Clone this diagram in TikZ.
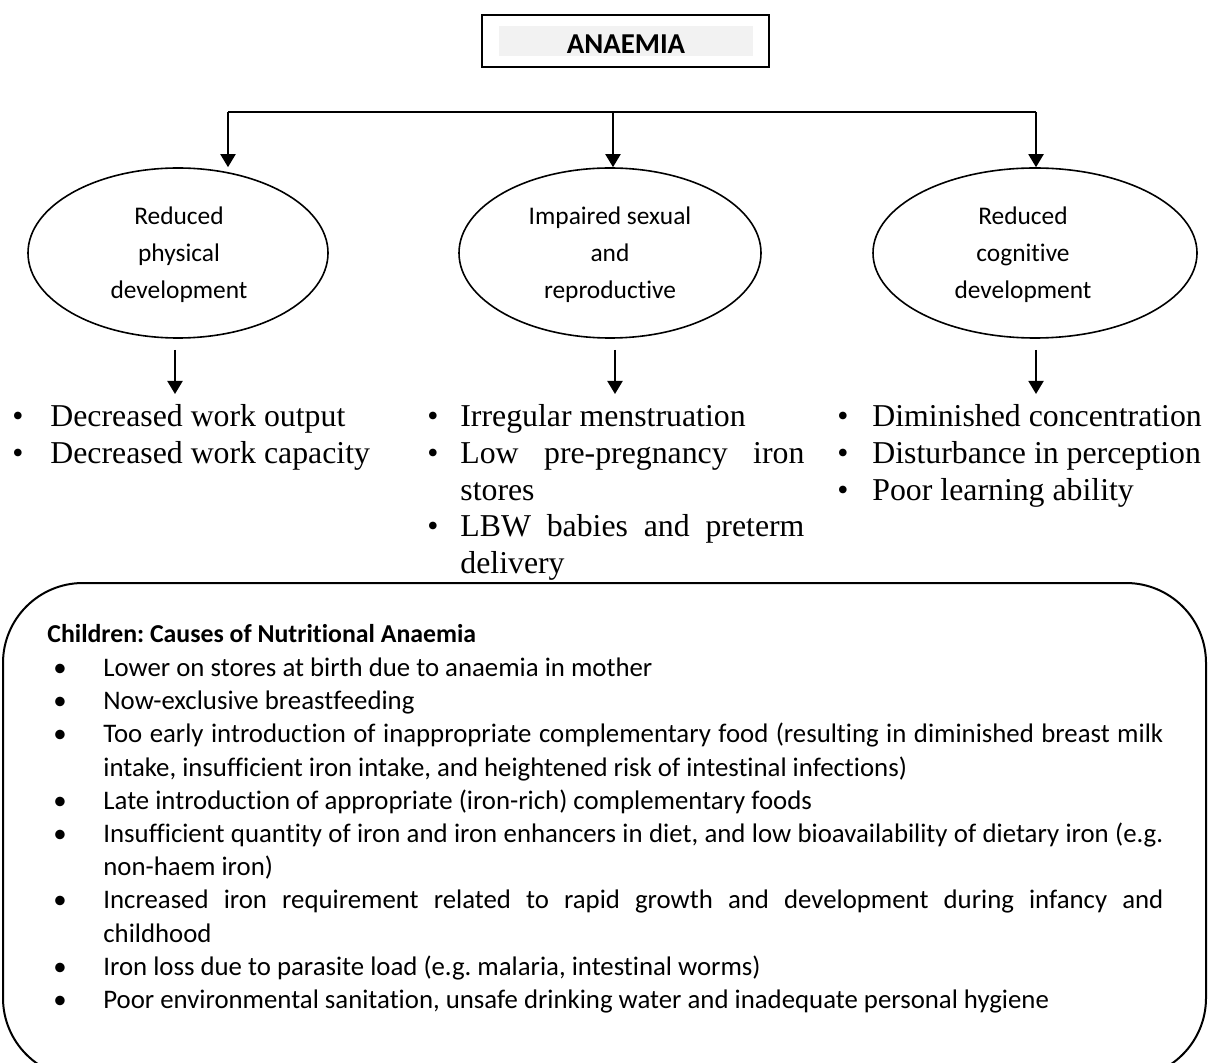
\documentclass[tikz,border=0pt]{standalone}
\usepackage{fontspec}
\setmainfont{Liberation Serif}
\newfontfamily\calib[Ligatures=NoCommon]{Carlito}
\usetikzlibrary{arrows.meta,shapes.geometric}
\definecolor{shade}{HTML}{F2F2F2}
\frenchspacing
\tikzset{
  frame/.style={draw, line width=1pt},
  oval/.style={draw, ellipse, line width=0.8pt, inner sep=0pt},
  link/.style={line width=1pt, -{Triangle[length=6.5pt,width=7.5pt]}},
  ovaltext/.style={font=\calib\fontsize{12.7}{18.5}\selectfont, inner sep=0pt, align=center},
  effect/.style={font=\fontsize{15.9}{18}\selectfont, inner sep=0pt, anchor=base west},
  effectdot/.style={font=\fontsize{15.9}{18}\selectfont, inner sep=0pt, anchor=base},
  cause/.style={font=\calib\fontsize{13.4}{15}\selectfont, inner sep=0pt, anchor=base west},
  causedot/.style={font=\calib\fontsize{13.4}{15}\selectfont, inner sep=0pt, anchor=base},
}
\newcommand\midline[1]{\makebox[172pt][s]{#1}}
\newcommand\wideline[1]{\makebox[530pt][s]{#1}}
\begin{document}
\begin{tikzpicture}[x=0.5pt, y=-0.5pt]
  \useasboundingbox (0,0) rectangle (1208,1063);
  \clip (0,0) rectangle (1208,1063);

  % title box
  \node[frame, minimum width=143.5pt, minimum height=26pt, inner sep=0pt] (title) at (625.5,41) {};
  \node[fill=shade, minimum width=127pt, minimum height=15pt, inner sep=0pt] (titleshade) at (626,41) {};
  \node[font=\calib\bfseries\fontsize{14.4}{16}\selectfont, inner sep=0pt] (titletext) at (626,44) {ANAEMIA};

  % distribution bar
  \coordinate (hl) at (228,112);
  \coordinate (hm) at (613,112);
  \coordinate (hr) at (1036,112);
  \draw[line width=1pt] (hl) -- (hr);

  % consequence ovals
  \node[oval, minimum width=150pt, minimum height=85pt] (e1) at (178,253) {};
  \node[oval, minimum width=151pt, minimum height=85pt] (e2) at (610,253) {};
  \node[oval, minimum width=162pt, minimum height=85pt] (e3) at (1035,253) {};
  \node[ovaltext] (t1) at (179,255) {Reduced\\physical\\development};
  \node[ovaltext] (t2) at (610,255) {Impaired sexual\\and\\reproductive};
  \node[ovaltext] (t3) at (1023,255) {Reduced\\cognitive\\development};

  \draw[link] (hl) -- (hl |- e1.north);
  \draw[link] (hm) -- (hm |- e2.north);
  \draw[link] (hr) -- (hr |- e3.north);

  % arrows to the effect lists
  \coordinate (d1) at (175,350);  \coordinate (f1) at (175,394);
  \coordinate (d2) at (615,350);  \coordinate (f2) at (615,394);
  \coordinate (d3) at (1036,350); \coordinate (f3) at (1036,394);
  \draw[link] (d1) -- (f1);
  \draw[link] (d2) -- (f2);
  \draw[link] (d3) -- (f3);

  % effects: physical
  \node[effectdot] (pb1) at (18,427) {\textbullet};
  \node[effect] (p1) at (50,427) {Decreased work output};
  \node[effectdot] (pb2) at (18,463.5) {\textbullet};
  \node[effect] (p2) at (50,463.5) {Decreased work capacity};

  % effects: reproductive
  \node[effectdot] (rb1) at (433,427) {\textbullet};
  \node[effect] (r1) at (460,427) {Irregular menstruation};
  \node[effectdot] (rb2) at (433,463.5) {\textbullet};
  \node[effect] (r2) at (460,463.5) {\midline{Low pre-pregnancy iron}};
  \node[effect] (r3) at (460,500) {stores};
  \node[effectdot] (rb3) at (433,536.5) {\textbullet};
  \node[effect] (r4) at (460,536.5) {\midline{LBW babies and preterm}};
  \node[effect] (r5) at (460,573) {delivery};

  % effects: cognitive
  \node[effectdot] (cb1) at (843,427) {\textbullet};
  \node[effect] (c1) at (872,427) {Diminished concentration};
  \node[effectdot] (cb2) at (843,463.5) {\textbullet};
  \node[effect] (c2) at (872,463.5) {Disturbance in perception};
  \node[effectdot] (cb3) at (843,500) {\textbullet};
  \node[effect] (c3) at (872,500) {Poor learning ability};

  % causes panel
  \draw[line width=1pt, rounded corners=40pt] (3,583) rectangle (1206,1078);
  \node[cause, font=\calib\bfseries\fontsize{12.9}{15}\selectfont] (head) at (47,642) {Children: Causes of Nutritional Anaemia};

  \node[causedot] (k1) at (60,676.5) {\textbullet};
  \node[cause] (s1) at (103,676.5) {Lower on stores at birth due to anaemia in mother};
  \node[causedot] (k2) at (60,709.7) {\textbullet};
  \node[cause] (s2) at (103,709.7) {Now-exclusive breastfeeding};
  \node[causedot] (k3) at (60,742.9) {\textbullet};
  \node[cause] (s3) at (103,742.9) {\wideline{Too early introduction of inappropriate complementary food (resulting in diminished breast milk}};
  \node[cause] (s3b) at (103,776.1) {intake, insufficient iron intake, and heightened risk of intestinal infections)};
  \node[causedot] (k4) at (60,809.3) {\textbullet};
  \node[cause] (s4) at (103,809.3) {Late introduction of appropriate (iron-rich) complementary foods};
  \node[causedot] (k5) at (60,842.5) {\textbullet};
  \node[cause] (s5) at (103,842.5) {\wideline{Insufficient quantity of iron and iron enhancers in diet, and low bioavailability of dietary iron (e.g.}};
  \node[cause] (s5b) at (103,875.7) {non-haem iron)};
  \node[causedot] (k6) at (60,908.9) {\textbullet};
  \node[cause] (s6) at (103,908.9) {\wideline{Increased iron requirement related to rapid growth and development during infancy and}};
  \node[cause] (s6b) at (103,942.1) {childhood};
  \node[causedot] (k7) at (60,975.3) {\textbullet};
  \node[cause] (s7) at (103,975.3) {Iron loss due to parasite load (e.g. malaria, intestinal worms)};
  \node[causedot] (k8) at (60,1008.5) {\textbullet};
  \node[cause] (s8) at (103,1008.5) {Poor environmental sanitation, unsafe drinking water and inadequate personal hygiene};
\end{tikzpicture}
\end{document}
